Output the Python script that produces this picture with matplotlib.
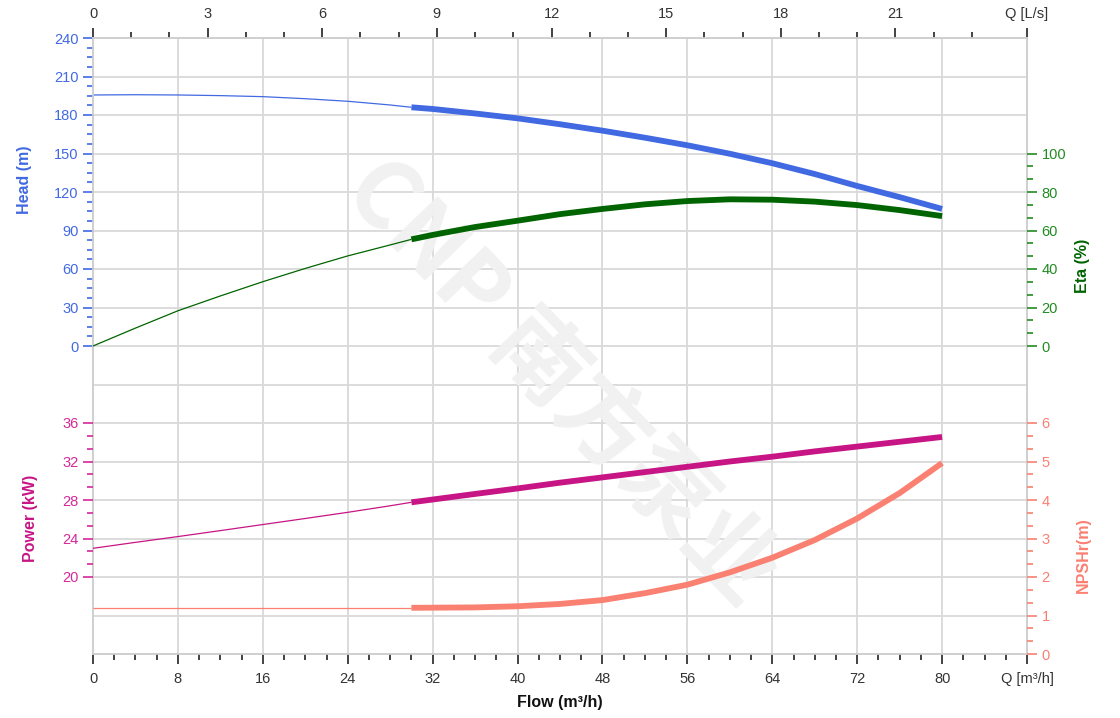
import numpy as np
import matplotlib.pyplot as plt
from matplotlib.ticker import FixedLocator

plt.rcParams['font.family'] = ['Liberation Sans', 'Noto Sans CJK SC', 'DejaVu Sans']

# data
flow = np.array([0, 4, 8, 12, 16, 20, 24, 28, 30, 32, 36, 40, 44, 48, 52, 56, 60, 64, 68, 72, 76, 80])
head = np.array([195.6, 195.8, 195.6, 195.1, 194.3, 192.7, 190.7, 187.8, 186.0, 184.7, 181.2, 177.4,
                 172.8, 167.8, 162.3, 156.4, 149.8, 142.4, 134.0, 124.7, 116.0, 106.8])
eta = np.array([0, 9.3, 18.3, 26.0, 33.4, 40.3, 46.8, 52.5, 55.4, 57.7, 61.8, 65.1,
                68.5, 71.2, 73.6, 75.3, 76.2, 76.0, 75.0, 73.2, 70.6, 67.5])
power = np.array([22.98, 23.6, 24.2, 24.82, 25.45, 26.08, 26.72, 27.4, 27.76, 28.05, 28.63, 29.2,
                  29.8, 30.35, 30.9, 31.45, 32.0, 32.5, 33.05, 33.55, 34.05, 34.55])

flow_npsh = np.array([0, 30, 36, 40, 44, 48, 52, 56, 60, 64, 68, 72, 76, 80])
npsh = np.array([1.20, 1.20, 1.21, 1.24, 1.30, 1.40, 1.58, 1.80, 2.12, 2.50, 2.96, 3.52, 4.18, 4.96])

q_min_op = 30  # start of operating range (thick line)

c_head = '#4169e1'
c_eta = '#006400'
c_pow = '#c71585'
c_npsh = '#fa8072'
grid_c = '#d9d9d9'

fig = plt.figure(figsize=(11.2, 7.18), dpi=100)
ax = fig.add_axes([93/1120, 64/718, 934/1120, 616/718])

def split_plot(a, x, y, color):
    thin = x <= q_min_op
    thick = x >= q_min_op
    a.plot(x[thin], y[thin], color=color, lw=0.9, solid_capstyle='butt')
    a.plot(x[thick], y[thick], color=color, lw=4.2, solid_capstyle='butt',
           solid_joinstyle='round')

def style_y(a, color):
    a.tick_params(axis='y', which='both', colors=color, labelsize=10.5)
    a.tick_params(axis='y', which='major', length=7, width=1.2)
    a.tick_params(axis='y', which='minor', length=4, width=1.2)

# head axis (main)
ax.set_xlim(0, 88)
ax.set_ylim(-240, 240)
for yv in np.arange(-210, 240, 30):
    ax.axhline(yv, color=grid_c, lw=1.3, zorder=0)
for xv in np.arange(8, 88, 8):
    ax.axvline(xv, color=grid_c, lw=1.3, zorder=0)
for s in ax.spines.values():
    s.set_color('#cccccc')
    s.set_linewidth(1.3)
ax.set_yticks(np.arange(0, 241, 30))
ax.yaxis.set_minor_locator(FixedLocator(np.arange(0, 241, 7.5)))
style_y(ax, c_head)

xt = list(np.arange(0, 81, 8)) + [88]
ax.set_xticks(xt)
ax.set_xticklabels([str(v) for v in np.arange(0, 81, 8)] + ['Q [m³/h]'])
ax.xaxis.set_minor_locator(FixedLocator(np.arange(0, 89, 2)))
ax.tick_params(axis='x', which='both', colors='#222222', labelcolor='#333333', labelsize=10.5)
ax.tick_params(axis='x', which='major', length=7, width=1.2, pad=6)
ax.tick_params(axis='x', which='minor', length=4, width=1.2)

# watermark
ax.text(0.50, 0.44, 'CNP 南方泵业', transform=ax.transAxes, rotation=-46,
        ha='center', va='center', fontsize=66, fontweight='bold',
        color='#f1f1f1', zorder=0.5, family=['Noto Sans CJK SC', 'DejaVu Sans'])

split_plot(ax, flow, head, c_head)

# top axis in L/s
top = ax.secondary_xaxis('top', functions=(lambda q: q / 3.6, lambda l: l * 3.6))
top.set_xticks(list(np.arange(0, 22, 3)) + [88 / 3.6])
top.set_xticklabels([str(v) for v in np.arange(0, 22, 3)] + ['Q [L/s]'])
top.xaxis.set_minor_locator(FixedLocator(np.arange(0, 24, 1)))
top.tick_params(which='both', colors='#222222', labelcolor='#333333', labelsize=10.5)
top.tick_params(which='major', length=7, width=1.2, pad=5)
top.tick_params(which='minor', length=4, width=1.2)
top.spines['top'].set_visible(False)

# eta axis
ax_eta = ax.twinx()
ax_eta.set_ylim(-160, 160)
ax_eta.set_yticks(np.arange(0, 101, 20))
ax_eta.yaxis.set_minor_locator(FixedLocator(np.arange(0, 100.1, 20 / 3)))
style_y(ax_eta, '#228b22')
for s in ax_eta.spines.values():
    s.set_visible(False)
split_plot(ax_eta, flow, eta, c_eta)

# power axis (left)
ax_pow = ax.twinx()
ax_pow.set_ylim(12, 76)
ax_pow.yaxis.tick_left()
ax_pow.set_yticks(np.arange(20, 37, 4))
ax_pow.yaxis.set_minor_locator(FixedLocator(np.arange(20, 36.1, 4 / 3)))
style_y(ax_pow, '#d6289a')
for s in ax_pow.spines.values():
    s.set_visible(False)
split_plot(ax_pow, flow, power, c_pow)

# npsh axis (right)
ax_npsh = ax.twinx()
ax_npsh.set_ylim(0, 16)
ax_npsh.set_yticks(np.arange(0, 7, 1))
ax_npsh.yaxis.set_minor_locator(FixedLocator(np.arange(0, 6.01, 1 / 3)))
style_y(ax_npsh, c_npsh)
for s in ax_npsh.spines.values():
    s.set_visible(False)
split_plot(ax_npsh, flow_npsh, npsh, c_npsh)

# axis titles
fig.text(24/1120, 1 - 180/718, 'Head (m)', rotation=90, ha='center', va='center',
         color=c_head, fontsize=11.5, fontweight='bold')
fig.text(30/1120, 1 - 518/718, 'Power (kW)', rotation=90, ha='center', va='center',
         color=c_pow, fontsize=11.5, fontweight='bold')
fig.text(1083/1120, 1 - 266/718, 'Eta (%)', rotation=90, ha='center', va='center',
         color=c_eta, fontsize=11.5, fontweight='bold')
fig.text(1083/1120, 1 - 555/718, 'NPSHr(m)', rotation=90, ha='center', va='center',
         color=c_npsh, fontsize=11.5, fontweight='bold')
fig.text(560/1120, 1 - 703/718, 'Flow (m³/h)', ha='center', va='center',
         color='#111111', fontsize=11.5, fontweight='bold')

fig.savefig('out.png', dpi=100)
